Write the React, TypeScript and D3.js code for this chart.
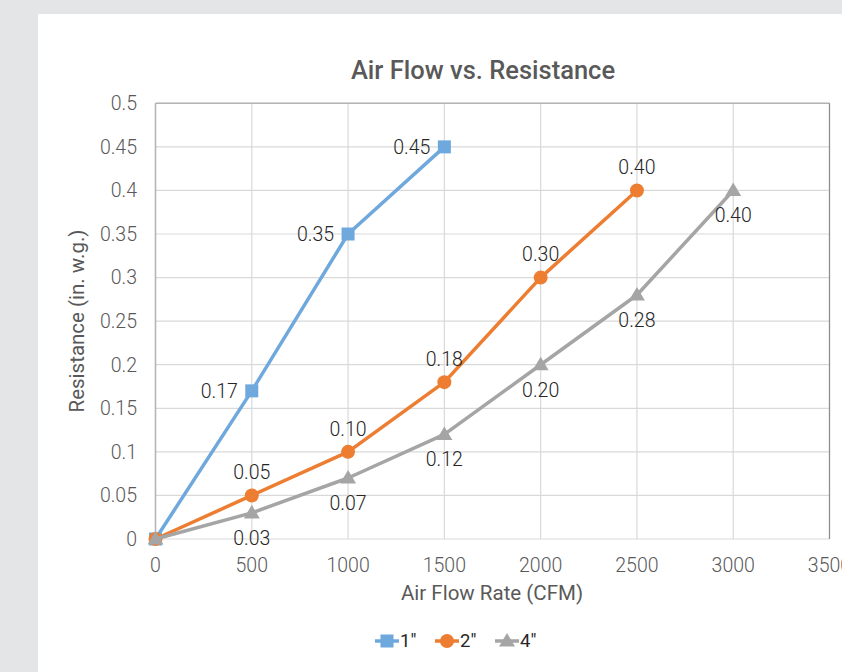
import React from "react";
import * as d3 from "d3";

const xTicks = [0, 500, 1000, 1500, 2000, 2500, 3000, 3500];
const yTicks = [0, 0.05, 0.1, 0.15, 0.2, 0.25, 0.3, 0.35, 0.4, 0.45, 0.5];
const yTickLabels = ["0", "0.05", "0.1", "0.15", "0.2", "0.25", "0.3", "0.35", "0.4", "0.45", "0.5"];

const flow1 = [0, 500, 1000, 1500];
const res1 = [0, 0.17, 0.35, 0.45];
const flow2 = [0, 500, 1000, 1500, 2000, 2500];
const res2 = [0, 0.05, 0.1, 0.18, 0.3, 0.4];
const flow4 = [0, 500, 1000, 1500, 2000, 2500, 3000];
const res4 = [0, 0.03, 0.07, 0.12, 0.2, 0.28, 0.4];

const seriesNames = ['1"', '2"', '4"'];
const colors = ["#6fa8dc", "#ed7d31", "#a5a5a5"];

const W = 842;
const H = 672;
const FONT = "Roboto, 'Noto Sans', sans-serif";

export default function App() {
  const x = d3.scaleLinear().domain([0, 3500]).range([155.5, 829.5]);
  const y = d3.scaleLinear().domain([0, 0.5]).range([539, 103.3]);
  const line = d3
    .line<[number, number]>()
    .x((d) => x(d[0]))
    .y((d) => y(d[1]));

  const series = [
    { name: seriesNames[0], color: colors[0], pts: flow1.map((f, i) => [f, res1[i]] as [number, number]), marker: "square", labelPos: "left" },
    { name: seriesNames[1], color: colors[1], pts: flow2.map((f, i) => [f, res2[i]] as [number, number]), marker: "circle", labelPos: "above" },
    { name: seriesNames[2], color: colors[2], pts: flow4.map((f, i) => [f, res4[i]] as [number, number]), marker: "triangle", labelPos: "below" },
  ];

  const marker = (type: string, cx: number, cy: number, color: string, key: string) => {
    if (type === "square") return <rect key={key} x={cx - 6.5} y={cy - 6.5} width={13} height={13} fill={color} />;
    if (type === "circle") return <circle key={key} cx={cx} cy={cy} r={7} fill={color} />;
    const s = 8;
    return <path key={key} d={`M${cx},${cy - s}L${cx + s},${cy + s * 0.7}L${cx - s},${cy + s * 0.7}Z`} fill={color} />;
  };

  const legendX = [375, 435, 495];

  return (
    <svg width={W} height={H} style={{ position: "fixed", left: 0, top: 0, display: "block" }} fontFamily={FONT}>
      <rect x={0} y={0} width={W} height={H} fill="#e4e5e7" />
      <rect x={38} y={14} width={W - 38} height={H - 14} fill="#ffffff" />
      <text x={483} y={79} textAnchor="middle" fontSize={25.5} fontWeight={500} fill="#595959">
        Air Flow vs. Resistance
      </text>
      {/* gridlines */}
      {yTicks.map((t) => (
        <line key={"gy" + t} x1={x(0)} x2={x(3500)} y1={y(t)} y2={y(t)} stroke="#d9d9d9" strokeWidth={1.2} />
      ))}
      {xTicks.map((t) => (
        <line key={"gx" + t} x1={x(t)} x2={x(t)} y1={y(0)} y2={y(0.5)} stroke="#d9d9d9" strokeWidth={1.2} />
      ))}
      {/* borders */}
      <line x1={x(0)} x2={x(3500)} y1={y(0.5)} y2={y(0.5)} stroke="#b4b4b4" strokeWidth={1.5} />
      <line x1={x(0)} x2={x(0)} y1={y(0.5)} y2={y(0)} stroke="#b4b4b4" strokeWidth={1.5} />
      <line x1={x(3500)} x2={x(3500)} y1={y(0.5)} y2={y(0)} stroke="#8c8c8c" strokeWidth={1.2} />
      {/* y tick labels */}
      {yTicks.map((t, i) => (
        <text key={"ty" + t} x={137} y={y(t)} dy="0.35em" textAnchor="end" fontSize={19.5} fontWeight={300} fill="#595959">
          {yTickLabels[i]}
        </text>
      ))}
      {xTicks.map((t) => (
        <text key={"tx" + t} x={x(t)} y={572} textAnchor="middle" fontSize={19.5} fontWeight={300} fill="#595959">
          {String(t)}
        </text>
      ))}
      <text x={492} y={600} textAnchor="middle" fontSize={20.5} fill="#595959">
        Air Flow Rate (CFM)
      </text>
      <text transform={`translate(84,321) rotate(-90)`} textAnchor="middle" fontSize={20.5} fill="#595959">
        Resistance (in. w.g.)
      </text>
      {/* series */}
      {series.map((s) => (
        <g key={s.name}>
          <path d={line(s.pts) || ""} fill="none" stroke={s.color} strokeWidth={3.5} strokeLinejoin="round" />
          {s.pts.map((p, i) => marker(s.marker, x(p[0]), y(p[1]), s.color, s.name + i))}
        </g>
      ))}
      {/* data labels */}
      {series.map((s) =>
        s.pts.map((p, i) => {
          if (i === 0) return null;
          const px = x(p[0]);
          const py = y(p[1]);
          let tx = px;
          let ty = py;
          let anchor: "start" | "middle" | "end" = "middle";
          if (s.labelPos === "left") {
            tx = px - 14;
            anchor = "end";
          } else if (s.labelPos === "above") {
            ty = py - 23;
          } else {
            ty = py + 25;
          }
          return (
            <text key={"dl" + s.name + i} x={tx} y={ty} dy="0.35em" textAnchor={anchor} fontSize={19.5} fontWeight={300} fill="#262626">
              {p[1].toFixed(2)}
            </text>
          );
        })
      )}
      {/* legend */}
      {series.map((s, i) => (
        <g key={"lg" + s.name}>
          <line x1={legendX[i]} x2={legendX[i] + 24} y1={641} y2={641} stroke={s.color} strokeWidth={3.5} />
          {marker(s.marker, legendX[i] + 12, 641, s.color, "lm" + i)}
          <text x={legendX[i] + 25} y={641} dy="0.35em" fontSize={18.5} fill="#262626">
            {s.name}
          </text>
        </g>
      ))}
    </svg>
  );
}
